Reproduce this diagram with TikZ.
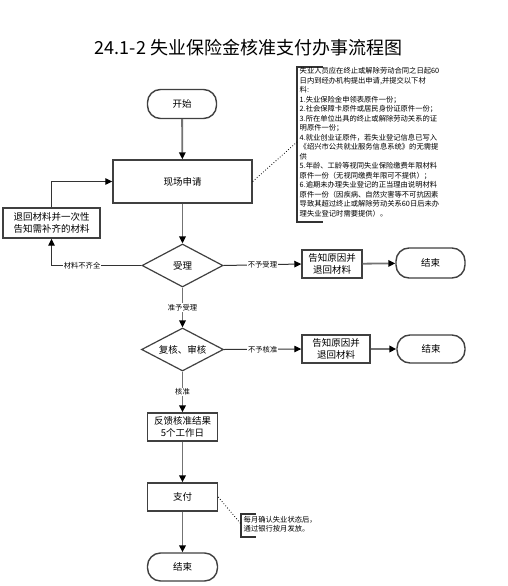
\documentclass[tikz,border=0pt]{standalone}
\usepackage{fontspec}
\setmainfont{Noto Sans CJK SC}
\usetikzlibrary{arrows.meta,shapes.geometric}
\begin{document}
\begin{tikzpicture}[x=1pt,y=-1pt,
  box/.style={draw=black!75, line width=1.4pt, fill=white, align=center, inner sep=0pt,
    font=\fontsize{9.5}{12.5}\selectfont},
  term/.style={box, rounded corners=13pt},
  dia/.style={diamond, aspect=2, draw=black!75, line width=1.2pt, fill=white, inner sep=0pt,
    font=\fontsize{9.5}{12}\selectfont},
  conn/.style={draw=black!55, line width=1.8pt, -{Triangle[length=7pt,width=6.5pt,color=black]}},
  side/.style={draw=black!80, line width=1pt, -{Triangle[length=7pt,width=6.5pt,color=black]}},
  lbl/.style={fill=white, inner sep=1pt, font=\fontsize{7.3}{9}\selectfont},
  note/.style={align=left, inner sep=0pt, anchor=north west, font=\fontsize{7.3}{9.5}\selectfont},
  bracket/.style={draw=black!80, line width=1.1pt},
  dots/.style={draw=black, line width=0.8pt, dotted}
]
\useasboundingbox (0,0) rectangle (507,586);

\node[font=\fontsize{18}{21}\selectfont] (title) at (248.5,48) {24.1-2 失业保险金核准支付办事流程图};

\node[term, minimum width=69pt, minimum height=29pt] (start) at (182,104) {开始};
\node[box, minimum width=139pt, minimum height=43pt] (apply) at (182.5,181.5) {现场申请};
\node[box, minimum width=97pt, minimum height=30pt] (ret) at (51.5,223) {退回材料并一次性\\告知需补齐的材料};
\node[dia, minimum width=81pt, minimum height=43pt] (acc) at (182.5,265.5) {受理};
\node[box, minimum width=60pt, minimum height=28pt] (rej1) at (332,264) {告知原因并\\退回材料};
\node[term, minimum width=69pt, minimum height=30pt] (end1) at (430.5,263) {结束};
\node[dia, minimum width=82pt, minimum height=43pt] (rev) at (182.5,349.5) {复核、审核};
\node[box, minimum width=68pt, minimum height=28pt] (rej2) at (336,349) {告知原因并\\退回材料};
\node[term, minimum width=68pt, minimum height=28pt] (end2) at (431,349) {结束};
\node[box, minimum width=70pt, minimum height=28pt] (fb) at (182.5,427) {反馈核准结果\\5个工作日};
\node[box, minimum width=70pt, minimum height=28pt] (pay) at (182.5,497) {支付};
\node[term, minimum width=70pt, minimum height=28pt] (end3) at (182.5,567) {结束};

% connectors
\draw[conn] (start) -- (apply);
\draw[conn] (apply) -- (acc);
\draw[side] (acc.west) -| node[lbl, pos=0.33] {材料不齐全} (ret.south);
\draw[side] (ret.north) |- (apply.west);
\draw[side] (acc.east) -- node[lbl] {不予受理} (rej1.west);
\draw[conn] (rej1) -- (end1);
\draw[conn] (acc) -- node[lbl] {准予受理} (rev);
\draw[side] (rev.east) -- node[lbl] {不予核准} (rej2.west);
\draw[conn] (rej2) -- (end2);
\draw[conn] (rev) -- node[lbl] {核准} (fb);
\draw[conn] (fb) -- (pay);
\draw[conn] (pay) -- (end3);

% note 1
\coordinate (n1) at (297,142);
\draw[bracket] (323,67) -- (297,67) -- (297,222) -- (323,222);
\draw[dots] (apply.east) -- (n1);
\node[note] (note1) at (299.5,67.5) {失业人员应在终止或解除劳动合同之日起60\\
日内到经办机构提出申请,并提交以下材\\
料:\\
1.失业保险金申领表原件一份；\\
2.社会保障卡原件或居民身份证原件一份；\\
3.所在单位出具的终止或解除劳动关系的证\\
明原件一份；\\
4.就业创业证原件，若失业登记信息已写入\\
《绍兴市公共就业服务信息系统》的无需提\\
供\\
5.年龄、工龄等视同失业保险缴费年限材料\\
原件一份（无视同缴费年限可不提供）；\\
6.逾期未办理失业登记的正当理由说明材料\\
原件一份（因疾病、自然灾害等不可抗因素\\
导致其超过终止或解除劳动关系60日后未办\\
理失业登记时需要提供）。};

% note 2
\coordinate (n2) at (241,524);
\draw[bracket] (256,514) -- (241,514) -- (241,537) -- (256,537);
\draw[dots] (pay.east) -- (n2);
\node[note, font=\fontsize{7.3}{9}\selectfont] (note2) at (243.5,516) {每月确认失业状态后，\\通过银行按月发放。};
\end{tikzpicture}
\end{document}
